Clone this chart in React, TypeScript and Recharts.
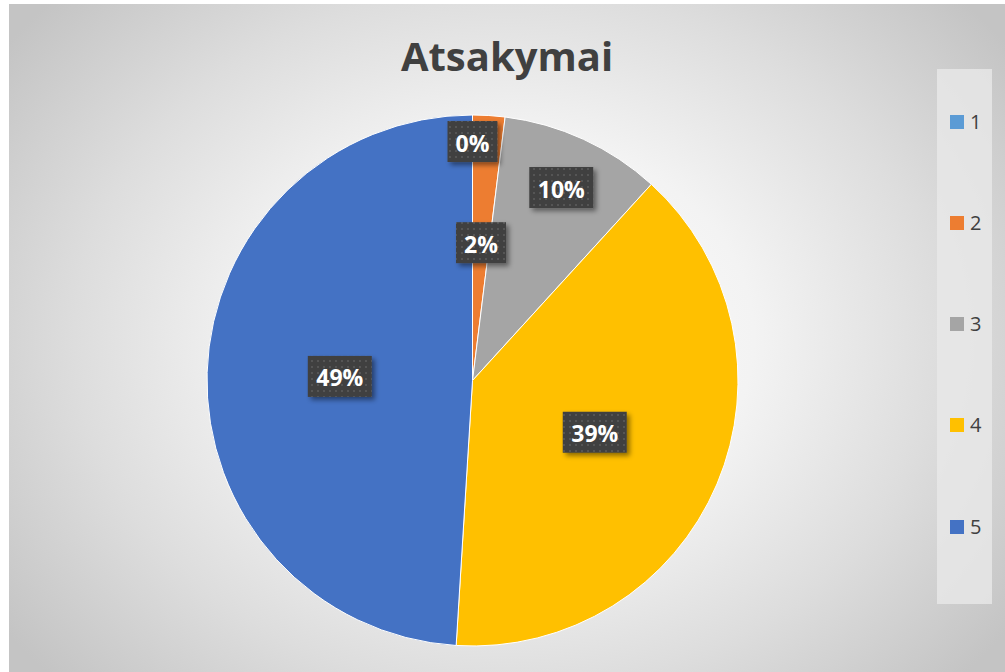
import { PieChart, Pie, Cell, Legend } from 'recharts'

// Atsakymų pasiskirstymas (kiekiai)
export const categories: string[] = ['1', '2', '3', '4', '5'];
export const answerCounts: number[] = [0, 1, 5, 20, 25];
export const sliceColors: string[] = ['#5B9BD5', '#ED7D31', '#A5A5A5', '#FFC000', '#4472C4'];

// kur dėti etiketes (dalis nuo spindulio)
const labelRadius: number[] = [0.9, 0.52, 0.8, 0.5, 0.5];

const chartData = categories.map((name, i) => ({ name, value: answerCounts[i] }));
const total = answerCounts.reduce((a, b) => a + b, 0);

const RAD = Math.PI / 180;
const FONT = '"Open Sans", "Noto Sans", sans-serif';

function renderLabel(props: any) {
    const { cx, cy, midAngle, outerRadius, index, value } = props;
    const r = outerRadius * labelRadius[index];
    const x = cx + r * Math.cos(-midAngle * RAD);
    const y = cy + r * Math.sin(-midAngle * RAD);
    const txt = `${Math.round((value / total) * 100)}%`;
    const w = txt.length > 2 ? 64 : 50;
    const h = 41;
    return (
        <g key={`lbl-${index}`}>
            <defs>
                <pattern id={`dots-${index}`} width="6" height="6" patternUnits="userSpaceOnUse">
                    <rect width="6" height="6" fill="#404040" />
                    <rect x="2" y="2" width="2" height="2" fill="#555555" />
                </pattern>
                <filter id={`shadow-${index}`} x="-30%" y="-30%" width="170%" height="180%">
                    <feDropShadow dx="3" dy="3" stdDeviation="2.5" floodColor="#000" floodOpacity="0.45" />
                </filter>
            </defs>
            <rect
                x={x - w / 2}
                y={y - h / 2}
                width={w}
                height={h}
                fill={`url(#dots-${index})`}
                filter={`url(#shadow-${index})`}
            />
            <text
                x={x}
                y={y + 1}
                textAnchor="middle"
                dominantBaseline="central"
                fill="#ffffff"
                fontFamily={FONT}
                fontWeight={700}
                fontSize={23}
            >
                {txt}
            </text>
        </g>
    );
}

function renderLegend() {
    return (
        <div
            style={{
                width: 55,
                height: 535,
                background: 'rgba(232, 232, 232, 0.8)',
                position: 'relative',
            }}
        >
            {categories.map((name, i) => (
                <div
                    key={name}
                    style={{
                        position: 'absolute',
                        left: 13,
                        top: 52.5 + i * 101.3 - 12,
                        height: 24,
                        display: 'flex',
                        alignItems: 'center',
                    }}
                >
                    <div style={{ width: 14, height: 14, backgroundColor: sliceColors[i] }}></div>
                    <span style={{ marginLeft: 6, fontFamily: FONT, fontSize: 20, lineHeight: '24px', color: '#404040' }}>{name}</span>
                </div>
            ))}
        </div>
    );
}

function App() {
    return (
        <div
            style={{
                position: 'absolute',
                left: 9,
                top: 4,
                width: 996,
                height: 668,
                overflow: 'hidden',
                background:
                    'radial-gradient(ellipse 62% 75% at 50% 50%, #ffffff 0%, #f3f3f3 40%, #dddddd 70%, #c4c4c4 100%)',
            }}
        >
            <div
                style={{
                    position: 'absolute',
                    left: 0,
                    top: 28,
                    width: 996,
                    textAlign: 'center',
                    fontFamily: FONT,
                    fontWeight: 700,
                    fontSize: 40,
                    lineHeight: '48px',
                    color: '#404040',
                }}
            >
                Atsakymai
            </div>
            <PieChart width={996} height={668} style={{ position: 'absolute', left: 0, top: 0 }}>
                <Pie
                    data={chartData}
                    dataKey="value"
                    nameKey="name"
                    cx={458.5}
                    cy={371.5}
                    innerRadius={0}
                    outerRadius={265.5}
                    startAngle={90}
                    endAngle={-270}
                    stroke="#ffffff"
                    strokeWidth={1}
                    label={renderLabel}
                    labelLine={false}
                    isAnimationActive={false}
                >
                    {chartData.map((entry, index) => (
                        <Cell key={`cell-${entry.name}`} fill={sliceColors[index]} />
                    ))}
                </Pie>
                <Legend
                    content={renderLegend}
                    wrapperStyle={{ position: 'absolute', left: 928, top: 65, width: 55, height: 535 }}
                />
            </PieChart>
        </div>
    )
}

export default App
